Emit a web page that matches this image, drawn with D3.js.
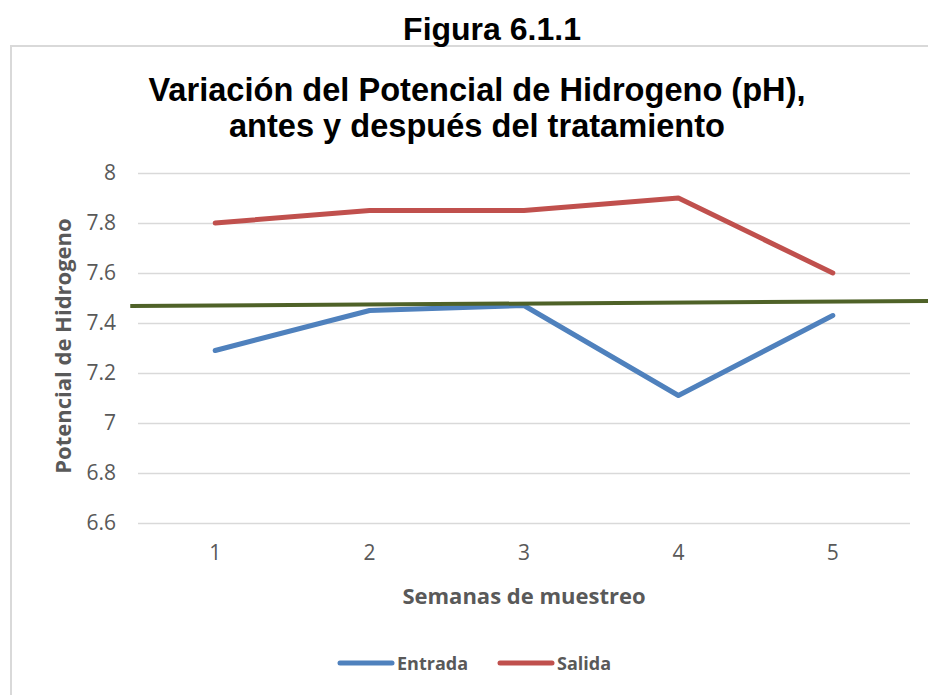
<!DOCTYPE html>
<html>
<head>
<meta charset="utf-8">
<script src="https://d3js.org/d3.v7.min.js"></script>
<style>
  body { margin: 0; background: #fff; }
  svg { display: block; }
</style>
</head>
<body>
<script>
// data
const semanas = [1, 2, 3, 4, 5];
const entrada = [7.29, 7.45, 7.47, 7.11, 7.43];
const salida = [7.80, 7.85, 7.85, 7.90, 7.60];
// reference line (drawn across the chart, slightly rising)
const refX = [0.45, 5.62];
const refY = [7.468, 7.488];
const yTicks = [6.6, 6.8, 7, 7.2, 7.4, 7.6, 7.8, 8];

const w = 928, h = 695;
const svg = d3.select("body").append("svg").attr("width", w).attr("height", h);

const x = d3.scaleBand().domain(semanas).range([138, 910]);
// same positions as a continuous scale, for the reference line
const xLin = d3.scaleLinear().domain([0.5, 5.5]).range([138, 910]);
const y = d3.scaleLinear().domain([6.6, 8]).range([523, 173]);

const sans = "'Liberation Sans', Arial, sans-serif";
const calibri = "'Open Sans', Lato, sans-serif";

// chart frame
svg.append("rect")
  .attr("x", 11).attr("y", 46).attr("width", w).attr("height", h)
  .attr("fill", "none").attr("stroke", "#d9d9d9").attr("stroke-width", 2);

svg.append("text")
  .attr("x", 492).attr("y", 40)
  .attr("text-anchor", "middle")
  .style("font-family", sans).style("font-weight", "bold").style("font-size", "32px")
  .text("Figura 6.1.1");

const title = svg.append("text")
  .attr("text-anchor", "middle")
  .style("font-family", sans).style("font-weight", "bold").style("font-size", "32.6px")
  .attr("fill", "#000");
title.append("tspan").attr("x", 477).attr("y", 101).text("Variación del Potencial de Hidrogeno (pH),");
title.append("tspan").attr("x", 477).attr("y", 137).text("antes y después del tratamiento");

// grid + y ticks
const yAxis = d3.axisLeft(y).tickValues(yTicks).tickSize(-(910 - 138)).tickPadding(22)
  .tickFormat(d3.format("~g"));
const gy = svg.append("g").attr("transform", "translate(138,0)").call(yAxis);
gy.select(".domain").remove();
gy.selectAll("line").attr("stroke", "#d9d9d9").attr("stroke-width", 1.5);
gy.selectAll("text").attr("fill", "#595959")
  .style("font-family", calibri).style("font-size", "21px");

// x ticks
const xAxis = d3.axisBottom(x).tickSize(0).tickPadding(22);
const gx = svg.append("g").attr("transform", "translate(0,523)").call(xAxis);
gx.select(".domain").remove();
gx.selectAll("text").attr("fill", "#595959")
  .style("font-family", calibri).style("font-size", "21px");

// axis titles
svg.append("text")
  .attr("x", 524).attr("y", 604).attr("text-anchor", "middle")
  .attr("fill", "#595959")
  .style("font-family", calibri).style("font-weight", "bold").style("font-size", "22px")
  .text("Semanas de muestreo");

svg.append("text")
  .attr("transform", "translate(71,346) rotate(-90)")
  .attr("text-anchor", "middle").attr("fill", "#595959")
  .style("font-family", calibri).style("font-weight", "bold").style("font-size", "22px")
  .text("Potencial de Hidrogeno");

// series
const line = d3.line()
  .x((d, i) => x(semanas[i]) + x.bandwidth() / 2)
  .y(d => y(d));

svg.append("path").datum(entrada).attr("d", line)
  .attr("fill", "none").attr("stroke", "#4f81bd").attr("stroke-width", 5)
  .attr("stroke-linecap", "round").attr("stroke-linejoin", "round");
svg.append("path").datum(salida).attr("d", line)
  .attr("fill", "none").attr("stroke", "#c0504d").attr("stroke-width", 5)
  .attr("stroke-linecap", "round").attr("stroke-linejoin", "round");

svg.append("line")
  .attr("x1", xLin(refX[0])).attr("y1", y(refY[0]))
  .attr("x2", xLin(refX[1])).attr("y2", y(refY[1]))
  .attr("stroke", "#4f6228").attr("stroke-width", 4);

// legend
const legendItems = [
  { name: "Entrada", color: "#4f81bd", x: 340 },
  { name: "Salida", color: "#c0504d", x: 500 }
];
const lg = svg.append("g").selectAll("g").data(legendItems).enter().append("g")
  .attr("transform", d => "translate(" + d.x + ",663)");
lg.append("line").attr("x1", 0).attr("x2", 52)
  .attr("stroke", d => d.color).attr("stroke-width", 5).attr("stroke-linecap", "round");
lg.append("text").attr("x", 57).attr("y", 7)
  .attr("fill", "#595959")
  .style("font-family", calibri).style("font-weight", "bold").style("font-size", "18px")
  .text(d => d.name);
</script>
</body>
</html>
